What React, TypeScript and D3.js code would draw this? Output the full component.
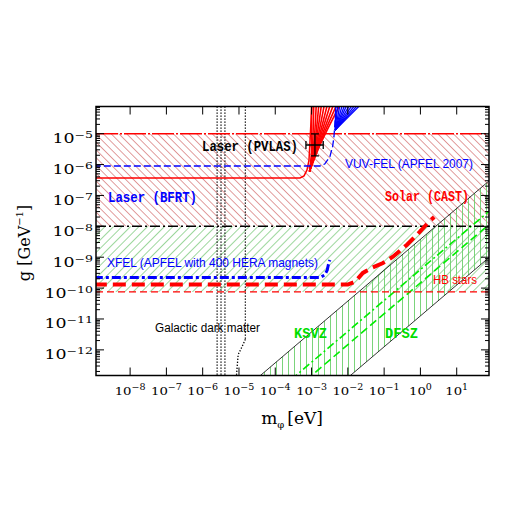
import React from "react";
import * as d3 from "d3";

// ---------- data ----------
const xTickExps = [-8, -7, -6, -5, -4, -3, -2, -1, 0, 1];
const yTickExps = [-12, -11, -10, -9, -8, -7, -6, -5];

// red solid laser curve (m [eV], g [GeV^-1])
const redLaserCurve: [number, number][] = [
  [1e-9, 3.7e-7], [4.8e-4, 3.7e-7], [6.2e-4, 4.3e-7], [7.5e-4, 6.7e-7],
  [8.5e-4, 1.4e-6], [9.1e-4, 6.2e-6], [9.7e-4, 2.8e-5], [1.03e-3, 1e-4],
];
// red fan: end points at top of frame (m) and at its base (g)
const redFanTops = [1.0e-3, 1.15e-3, 1.35e-3, 1.6e-3, 1.9e-3, 2.3e-3, 2.8e-3, 3.4e-3, 4.2e-3, 5.2e-3, 6.5e-3];
const redFanBase: [number, number] = [8.8e-4, 6.0e-7];
const redFanKnee = [1.0e-3, 1.05e-3, 1.1e-3, 1.15e-3, 1.2e-3, 1.25e-3, 1.3e-3, 1.35e-3, 1.4e-3, 1.45e-3, 1.5e-3];
// blue VUV-FEL curve
const blueVuvCurve: [number, number][] = [
  [1e-9, 9e-7], [1.7e-3, 9e-7], [2.3e-3, 1.04e-6], [3.2e-3, 1.8e-6],
  [3.8e-3, 3.8e-6], [4.15e-3, 8e-6], [4.4e-3, 2.2e-5], [4.9e-3, 1e-4],
];
const blueFanTops = [4.6e-3, 5.3e-3, 6.2e-3, 7.3e-3, 8.6e-3, 1.0e-2, 1.2e-2, 1.45e-2, 1.75e-2, 2.1e-2, 2.5e-2];
const blueFanBase: [number, number] = [4.5e-3, 1.3e-5];
// XFEL (APFEL with 400 HERA magnets)
const xfelCurve: [number, number][] = [
  [1e-9, 2.2e-10], [1.7e-3, 2.2e-10], [2.3e-3, 2.65e-10], [2.7e-3, 3.8e-10],
  [2.9e-3, 5.6e-10], [3.2e-3, 8.1e-10],
];
// CAST thick dashed
const castCurve: [number, number][] = [
  [1e-9, 1.3e-10], [1.0e-2, 1.3e-10], [1.57e-2, 1.6e-10], [2.6e-2, 3.1e-10],
  [4.5e-2, 4.5e-10], [9.3e-2, 6.5e-10], [0.175, 1.04e-9], [0.42, 2.5e-9],
  [0.97, 6.7e-9], [1.6, 1.28e-8], [2.4, 2.0e-8],
];
const hbLimit = 7.5e-11;
const laserTop = 1e-5;
const laserBottom = 1e-8;
// axion band: g = coef * m
const bandUpperCoef = Math.pow(10, -8.42);
const bandLowerCoef = Math.pow(10, -10.9);
const ksvzCoef = Math.pow(10, -9.4);
const dfszCoef = Math.pow(10, -9.83);
// galactic dark matter dotted lines (m in eV)
const dmLines = [2.5e-6, 3.2e-6, 4.1e-6];
const dmLine2 = 1.5e-5;
const dmCurl: [number, number][] = [[1.5e-5, 2.2e-12], [1.3e-5, 1.5e-12], [1.1e-5, 1.0e-12], [9.5e-6, 7e-13], [8.5e-6, 1.4e-13]];
// PVLAS point
const pvlas = { m: 1.24e-3, g: 4.3e-6, mLo: 7.0e-4, mHi: 2.1e-3, gLo: 1.9e-6, gHi: 9.8e-6 };

// ---------- layout ----------
const W = 518, H = 518;
const L = 96, R = 489, T = 106.5, B = 375.5;
const xDom = [Math.pow(10, -8.94), Math.pow(10, 1.89)];
const yDom = [Math.pow(10, -12.83), Math.pow(10, -4.12)];

const x = d3.scaleLog().domain(xDom).range([L, R]);
const y = d3.scaleLog().domain(yDom).range([B, T]);
const line = d3.line<[number, number]>().x(d => x(d[0])).y(d => y(d[1]));
const smooth = d3.line<[number, number]>().x(d => x(d[0])).y(d => y(d[1])).curve(d3.curveMonotoneY);
const poly = (pts: [number, number][]) => line(pts) + "Z";

function Pow({ px, py, exp, size, sx, anchor }: any) {
  const e = exp < 0 ? "\u2212" + -exp : String(exp);
  return (
    <text transform={`translate(${px},${py}) scale(${sx},1)`} textAnchor={anchor}
      fontFamily="DejaVu Serif" fontSize={size} fill="#000">
      10<tspan fontSize={size * 0.72} dy={-size * 0.42}>{e}</tspan>
    </text>
  );
}

export default function App() {
  const xt = x.ticks().filter(v => v >= xDom[0] && v <= xDom[1]);
  const yt = y.ticks().filter(v => v >= yDom[0] && v <= yDom[1]);
  const isMajor = (v: number) => Math.abs(Math.log10(v) - Math.round(Math.log10(v))) < 1e-6;
  const mL = xDom[0], mR = xDom[1];
  const band: [number, number][] = [
    [mL, bandUpperCoef * mL], [mR, bandUpperCoef * mR],
    [mR, bandLowerCoef * mR], [mL, bandLowerCoef * mL],
  ];
  const top = yDom[1] * 1.3;
  return (
    <svg width={W} height={H} style={{ position: "fixed", left: 0, top: 0, background: "#fff" }}>
      <defs>
        <clipPath id="plot"><rect x={L} y={T} width={R - L} height={B - T} /></clipPath>
        <pattern id="redHatch" patternUnits="userSpaceOnUse" width={5.5} height={5.5} patternTransform="rotate(-45)">
          <line x1={0} y1={0} x2={0} y2={5.5} stroke="#c43a3a" strokeWidth={1} />
        </pattern>
        <pattern id="greenHatch" patternUnits="userSpaceOnUse" width={6} height={6} patternTransform="rotate(45)">
          <line x1={0} y1={0} x2={0} y2={6} stroke="#3cb03c" strokeWidth={1} />
        </pattern>
        <pattern id="greenVert" patternUnits="userSpaceOnUse" width={6} height={6}>
          <line x1={0.5} y1={0} x2={0.5} y2={6} stroke="#6ccf6c" strokeWidth={0.9} />
        </pattern>
      </defs>
      <g clipPath="url(#plot)">
        <rect x={x(mL)} y={y(laserTop)} width={R - L} height={y(laserBottom) - y(laserTop)} fill="url(#redHatch)" />
        <rect x={x(mL)} y={y(laserBottom)} width={R - L} height={y(hbLimit) - y(laserBottom)} fill="url(#greenHatch)" />
        <path d={poly(band)} fill="url(#greenVert)" />
        <path d={line([[mL, bandUpperCoef * mL], [mR, bandUpperCoef * mR]])!} stroke="#000" strokeWidth={0.8} fill="none" />
        <path d={line([[mL, bandLowerCoef * mL], [mR, bandLowerCoef * mR]])!} stroke="#000" strokeWidth={0.8} fill="none" />
        <path d={line([[mL, ksvzCoef * mL], [mR, ksvzCoef * mR]])!} stroke="#00ee00" strokeWidth={1.6} strokeDasharray="8,3,2,3" fill="none" />
        <path d={line([[mL, dfszCoef * mL], [mR, dfszCoef * mR]])!} stroke="#00ee00" strokeWidth={1.6} strokeDasharray="8,4" fill="none" />

        {dmLines.map((m, i) => (
          <line key={i} x1={x(m)} x2={x(m)} y1={T} y2={B} stroke="#000" strokeWidth={1.3} strokeDasharray="1.3,1.7" />
        ))}
        <line x1={x(dmLine2)} x2={x(dmLine2)} y1={T} y2={y(dmCurl[0][1])} stroke="#000" strokeWidth={1.3} strokeDasharray="1.3,1.7" />
        <path d={line(dmCurl)!} stroke="#000" strokeWidth={1.3} strokeDasharray="1.3,1.7" fill="none" />

        <line x1={L} x2={R} y1={y(laserTop)} y2={y(laserTop)} stroke="#ff0000" strokeWidth={1.5} strokeDasharray="22,2,2,2" />
        <line x1={L} x2={R} y1={y(laserBottom)} y2={y(laserBottom)} stroke="#000" strokeWidth={1.5} strokeDasharray="10,3,2,3" />
        <line x1={L} x2={R} y1={y(hbLimit)} y2={y(hbLimit)} stroke="#ff0000" strokeWidth={1.2} strokeDasharray="7,4" />

        {redFanTops.map((m, i) => (
          <path key={i} d={smooth([redFanBase, [redFanKnee[i], 3e-6], [m, top]])!}
            stroke="#ff0000" strokeWidth={1.6} fill="none" />
        ))}
        <path d={line(redLaserCurve)!} stroke="#ff0000" strokeWidth={1.5} fill="none" />
        {blueFanTops.map((m, i) => (
          <path key={i} d={line([blueFanBase, [m, top]])!}
            stroke="#0000ff" strokeWidth={1.3} fill="none" />
        ))}
        <path d={line(blueVuvCurve)!} stroke="#0000ff" strokeWidth={1.3} strokeDasharray="7,3" fill="none" />
        <path d={line(xfelCurve)!} stroke="#0000ff" strokeWidth={3} strokeDasharray="9,3,3,3" fill="none" />
        <path d={line(castCurve)!} stroke="#ff0000" strokeWidth={4} strokeDasharray="13,6" fill="none" />

        {/* PVLAS error cross */}
        <g stroke="#000" strokeWidth={1.3}>
          <line x1={x(pvlas.m)} x2={x(pvlas.m)} y1={y(pvlas.gLo)} y2={y(pvlas.gHi)} />
          <line x1={x(pvlas.mLo)} x2={x(pvlas.mHi)} y1={y(pvlas.g)} y2={y(pvlas.g)} />
          <line x1={x(pvlas.m) - 4} x2={x(pvlas.m) + 4} y1={y(pvlas.gLo)} y2={y(pvlas.gLo)} />
          <line x1={x(pvlas.m) - 4} x2={x(pvlas.m) + 4} y1={y(pvlas.gHi)} y2={y(pvlas.gHi)} />
          <line x1={x(pvlas.mLo)} x2={x(pvlas.mLo)} y1={y(pvlas.g) - 4} y2={y(pvlas.g) + 4} />
          <line x1={x(pvlas.mHi)} x2={x(pvlas.mHi)} y1={y(pvlas.g) - 4} y2={y(pvlas.g) + 4} />
        </g>
      </g>

      {/* frame and ticks */}
      <rect x={L} y={T} width={R - L} height={B - T} fill="none" stroke="#000" strokeWidth={1.5} />
      <g stroke="#000" strokeWidth={1}>
        {xt.map((v, i) => {
          const len = isMajor(v) ? 8 : 4;
          return (
            <g key={i}>
              <line x1={x(v)} x2={x(v)} y1={B} y2={B - len} />
              <line x1={x(v)} x2={x(v)} y1={T} y2={T + len} />
            </g>
          );
        })}
        {yt.map((v, i) => {
          const len = isMajor(v) ? 8 : 4;
          return (
            <g key={i}>
              <line x1={L} x2={L + len} y1={y(v)} y2={y(v)} />
              <line x1={R} x2={R - len} y1={y(v)} y2={y(v)} />
            </g>
          );
        })}
      </g>
      {xTickExps.map(e => (
        <Pow key={e} px={x(Math.pow(10, e))} py={395} exp={e} size={11.5} sx={1.15} anchor="middle" />
      ))}
      {yTickExps.map(e => (
        <Pow key={e} px={93} py={y(Math.pow(10, e)) + 9.5} exp={e} size={12} sx={1.45} anchor="end" />
      ))}

      {/* axis titles */}
      <text x={292} y={424} textAnchor="middle" fontFamily="DejaVu Serif" fontSize={17}>
        m<tspan fontSize={10} dy={4}>φ</tspan><tspan dy={-4} dx={3}>[eV]</tspan>
      </text>
      <text transform="translate(30,243) rotate(-90)" textAnchor="middle" fontFamily="DejaVu Serif" fontSize={16}>
        g  [GeV<tspan fontSize={10} dy={-7}>−1</tspan><tspan dy={7}>]</tspan>
      </text>

      {/* labels */}
      <g fontFamily="Liberation Mono" fontWeight="bold" fontSize={15}>
        <text x={202} y={151} textLength={96} lengthAdjust="spacingAndGlyphs" fill="#000">Laser (PVLAS)</text>
        <text x={108} y={202} textLength={89} lengthAdjust="spacingAndGlyphs" fill="#0000ff">Laser (BFRT)</text>
        <text x={385} y={201} textLength={84} lengthAdjust="spacingAndGlyphs" fill="#ff0000">Solar (CAST)</text>
        <text x={294} y={338} textLength={33} lengthAdjust="spacingAndGlyphs" fill="#00dd00">KSVZ</text>
        <text x={385} y={338} textLength={33} lengthAdjust="spacingAndGlyphs" fill="#00dd00">DFSZ</text>
      </g>
      <g fontFamily="Liberation Sans" fontSize={12}>
        <text x={345} y={168} textLength={128} lengthAdjust="spacingAndGlyphs" fill="#0000ff">VUV-FEL (APFEL 2007)</text>
        <text x={107} y={267} textLength={211} lengthAdjust="spacingAndGlyphs" fill="#0000ff">XFEL (APFEL with 400 HERA magnets)</text>
        <text x={433} y={284} textLength={44} lengthAdjust="spacingAndGlyphs" fill="#ff0000">HB stars</text>
        <text x={155} y={332} textLength={105} lengthAdjust="spacingAndGlyphs" fill="#000">Galactic dark matter</text>
      </g>
    </svg>
  );
}
